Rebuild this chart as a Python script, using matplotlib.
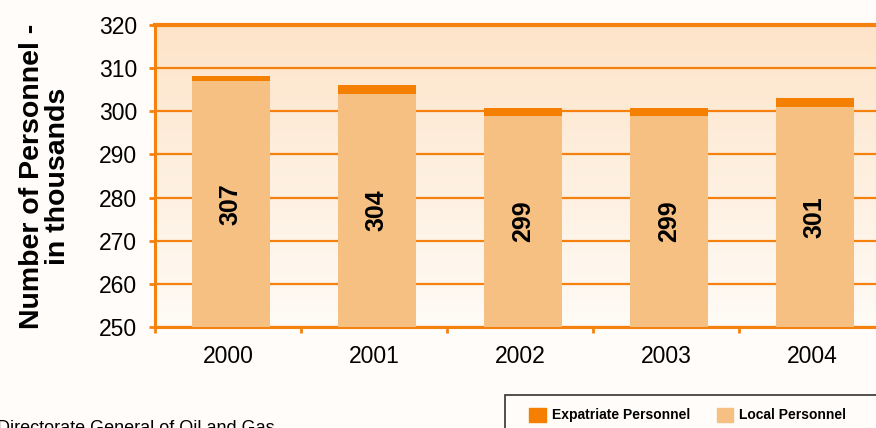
import numpy as np
import matplotlib
matplotlib.use("Agg")
import matplotlib.pyplot as plt
from matplotlib.patches import Rectangle, Patch

years = ["2000", "2001", "2002", "2003", "2004"]
local = [307, 304, 299, 299, 301]
expat = [1.2, 2.0, 1.8, 1.8, 2.0]

ORANGE = "#f47f00"
LIGHT = "#f6c083"
GRID = "#f5820f"

plt.rcParams["font.family"] = ["Liberation Sans", "DejaVu Sans"]

W, H = 876, 428
fig = plt.figure(figsize=(W / 100, H / 100), dpi=100, facecolor="#fffcf9")
# axes: x from 155px to 885px (past the right edge), y from 327px to 25px
ax = fig.add_axes([155 / W, 1 - 327 / H, 730 / W, 302 / H])
ax.set_facecolor("none")

# gradient background of plot area
grad = np.linspace(0, 1, 256).reshape(-1, 1)
top = np.array([0xfd, 0xe4, 0xc9]) / 255
bot = np.array([0xff, 0xfb, 0xf6]) / 255
img = top * (1 - grad[..., None]) + bot * grad[..., None]
ax.imshow(img, extent=[0, 1, 0, 1], transform=ax.transAxes, aspect="auto", zorder=0)

x = np.arange(len(years))
ax.bar(x + 0.02, local, width=0.53, color=LIGHT, zorder=3)
ax.bar(x + 0.02, expat, bottom=local, width=0.53, color=ORANGE, zorder=3)

for xi, v in zip(x, local):
    ax.text(xi + 0.02, (250 + v) / 2, str(v), rotation=90, ha="center", va="center",
            fontsize=18, fontweight="bold", color="black", zorder=4)

ax.set_xlim(-0.5, 4.5)
ax.set_ylim(250, 320)
ax.set_yticks(range(250, 321, 10))
ax.yaxis.grid(True, color=GRID, linewidth=1.6, zorder=1)
ax.set_axisbelow(True)

ax.set_xticks(x)
ax.set_xticklabels(years)
ax.set_xticks(np.arange(-0.5, 4.6, 1), minor=True)
ax.tick_params(axis="x", which="major", length=0, pad=13, labelsize=16.5)
ax.tick_params(axis="x", which="minor", length=4, width=2, color=GRID)
ax.tick_params(axis="y", length=4, width=2, color=GRID, pad=9, labelsize=16.5)

for side in ["left", "bottom"]:
    ax.spines[side].set_color(GRID)
    ax.spines[side].set_linewidth(2.2)
ax.spines["top"].set_color(GRID)
ax.spines["top"].set_linewidth(3)
ax.spines["right"].set_visible(False)

fig.text(45 / W, 1 - 176 / H, "Number of Personnel -\nin thousands", rotation=90,
         ha="center", va="center", multialignment="center", fontsize=20.5,
         fontweight="bold", linespacing=1.0)

fig.text(-3 / W, 1 - 420 / H, "Directorate General of Oil and Gas", ha="left",
         va="top", fontsize=13)

# legend box (runs off the right and bottom edges)
fig.patches.append(Rectangle((505 / W, -0.1), 0.6, 0.1 + 1 - 395 / H,
                             transform=fig.transFigure, facecolor="none",
                             edgecolor="#333333", linewidth=1.2))
handles = [Patch(color=ORANGE, label="Expatriate Personnel"),
           Patch(color=LIGHT, label="Local Personnel")]
fig.legend(handles=handles, loc="center left", bbox_to_anchor=(529 / W, 1 - 415 / H),
           ncol=2, frameon=False, borderpad=0, borderaxespad=0,
           handlelength=1.2, handleheight=1.2, handletextpad=0.45,
           columnspacing=1.9, prop={"weight": "bold", "size": 10})

fig.savefig("out.png", dpi=100, facecolor=fig.get_facecolor())
